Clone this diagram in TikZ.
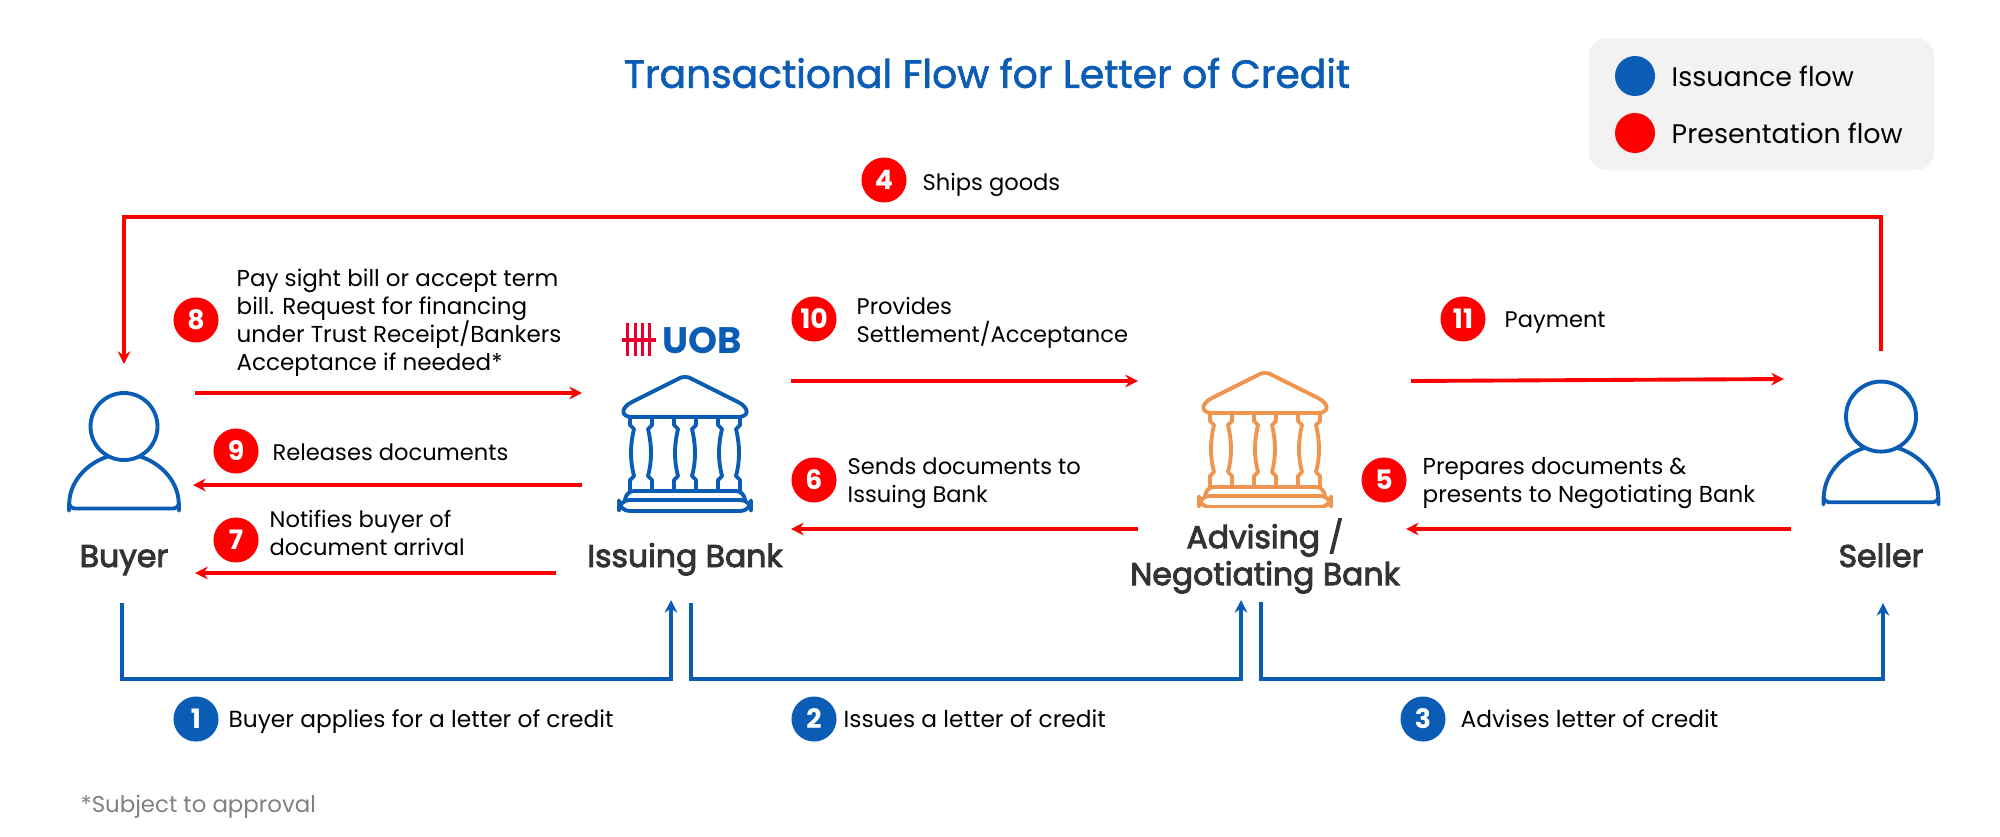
\documentclass[tikz,border=0pt]{standalone}
\usepackage{fontspec}
\setmainfont{Poppins}
\newfontfamily\titlefont[RawFeature={embolden=1.5}]{Poppins}
\newfontfamily\partyfont[RawFeature={embolden=3}]{Poppins}
\usepackage{tikz}
\usetikzlibrary{arrows.meta}
\definecolor{uobblue}{HTML}{0B5CB5}
\definecolor{uobred}{HTML}{FF0000}
\definecolor{uoblogo}{HTML}{E4002B}
\definecolor{uoborange}{HTML}{F0954F}
\definecolor{uobtext}{HTML}{333333}
\tikzset{
% Two badge styles, one for each flow
blue badge/.style={circle,fill=uobblue,text=white,inner sep=0,minimum size=.45cm,font=\fontsize{7.6}{8}\selectfont\bfseries},
red badge/.style={circle,fill=uobred,text=white,inner sep=0,minimum size=.45cm,font=\fontsize{7.6}{8}\selectfont\bfseries},
blue flow/.style={draw=uobblue,line width=1.1pt,-{Stealth[length=3.6pt,width=3.6pt]}},
red flow/.style={draw=uobred,line width=1.1pt,-{Stealth[length=3.6pt,width=3.6pt]}},
step text/.style={anchor=west,align=left,inner sep=0,text=black,font=\fontsize{6.42}{8}\selectfont},
wide text/.style={step text,font=\fontsize{6.62}{8}\selectfont},
party/.style={align=center,inner sep=0,text=uobtext,font=\fontsize{8.95}{10.5}\partyfont},
icon/.style={line width=1.1pt,line join=round,line cap=round},
% Person and bank icons, origin at the top middle
pics/person/.style={code={
  \draw (0,35) circle[radius=33.5];
  \draw[rounded corners=1.5pt] (-16,65) .. controls (-38,72) and (-53,90) .. (-55,114) -- (-55,117) -- (55,117) -- (55,114) .. controls (53,90) and (38,72) .. (16,65);
}},
pics/bank/.style={code={
  \draw (-8,3.5) .. controls (-3,0) and (3,0) .. (8,3.5) -- (53,26) .. controls (65,32) and (64,41) .. (53,41) -- (-53,41) .. controls (-64,41) and (-65,32) .. (-53,26) -- cycle;
  \foreach \c in {-44,0,44}{
    \draw (\c-11,41) -- (\c-11,49) -- (\c-7,53) .. controls (\c-11,70) and (\c-11,85) .. (\c-7,100) -- (\c-11,104) -- (\c-11,115);
    \draw (\c+11,41) -- (\c+11,49) -- (\c+7,53) .. controls (\c+11,70) and (\c+11,85) .. (\c+7,100) -- (\c+11,104) -- (\c+11,115);
  }
  \draw[rounded corners=2pt] (-60,124) -- (-58,115) -- (58,115) -- (60,124);
  \draw[rounded corners=3pt] (-66,124) rectangle (66,135);
}}
}
\begin{document}
\begin{tikzpicture}[x=.01cm,y=-.01cm]
      \useasboundingbox (0,0) rectangle (2000,836);
      % Title and legend
      \node(title) at (987,73)[text=uobblue,font=\fontsize{11.15}{14}\titlefont]{Transactional Flow for Letter of Credit};
      \fill[gray!10,rounded corners=5pt] (1589,38) rectangle (1934,170);
      \node(lgblue) at (1635,76)[circle,fill=uobblue,minimum size=.4cm,inner sep=0]{};
      \node(lgred) at (1635,133)[circle,fill=uobred,minimum size=.4cm,inner sep=0]{};
      \node(lgbluetext) at (1671,76)[step text,font=\fontsize{7.65}{9}\selectfont]{Issuance flow};
      \node(lgredtext) at (1671,133)[step text,font=\fontsize{7.65}{9}\selectfont]{Presentation flow};
      % The parties
      \pic[icon,color=uobblue] at (124,391.5) {person};
      \pic[icon,color=uobblue,scale=1.045] at (1881,380) {person};
      \pic[icon,color=uobblue] at (685,376) {bank};
      \begin{scope}
        \clip (1150,360) rectangle (1400,507);
        \pic[icon,color=uoborange] at (1265,372) {bank};
      \end{scope}
      \node(buyer) at (124,567)[party,anchor=base]{Buyer};
      \node(seller) at (1881,567)[party,anchor=base]{Seller};
      \node(issuing) at (685,567)[party,anchor=base]{Issuing Bank};
      \node(advising) at (1265,556)[party]{Advising /\\Negotiating Bank};
      % UOB logo
      \foreach \x in {627,635,642,649.5}{
        \draw[uoblogo,line width=.85pt] (\x,323) -- (\x,356);
      }
      \draw[uoblogo,line width=.9pt] (622,340) -- (656,340);
      \node(uob) at (702,340)[inner sep=0,text=uobblue,font=\fontsize{10.5}{12}\selectfont\bfseries]{UOB};
      % Issuance flow
      \node(b1) at (196,719)[blue badge]{1};
      \node(t1) at (228,722)[wide text]{Buyer applies for a letter of credit};
      \node(b2) at (814,719)[blue badge]{2};
      \node(t2) at (843,719)[wide text]{Issues a letter of credit};
      \node(b3) at (1423,719)[blue badge]{3};
      \node(t3) at (1460,719)[wide text]{Advises letter of credit};
      \coordinate(s1) at (122,603);
      \coordinate(m1) at (400,679);
      \coordinate(e1) at (671,600);
      \coordinate(s2) at (691,603);
      \coordinate(m2) at (1000,679);
      \coordinate(e2) at (1241,600);
      \coordinate(s3) at (1261,602);
      \coordinate(m3) at (1600,679);
      \coordinate(e3) at (1883,603);
      \draw[blue flow] (s1) |- (m1) -| (e1);
      \draw[blue flow] (s2) |- (m2) -| (e2);
      \draw[blue flow] (s3) |- (m3) -| (e3);
      % Presentation flow
      \node(b4) at (884,180)[red badge]{4};
      \node(t4) at (922,184.5)[step text]{Ships goods};
      \coordinate(s4) at (1881,351);
      \coordinate(m4) at (1000,217);
      \coordinate(e4) at (124,364);
      \draw[red flow] (s4) |- (m4) -| (e4);
      \node(b5) at (1384,480)[red badge]{5};
      \node(t5) at (1422,483.5)[step text,font=\fontsize{6.55}{8}\selectfont]{Prepares documents \&\\presents to Negotiating Bank};
      \coordinate(s5) at (1791,529);
      \coordinate(e5) at (1406,529);
      \draw[red flow] (s5) -- (e5);
      \node(b6) at (814,480)[red badge]{6};
      \node(t6) at (847,483.5)[step text]{Sends documents to\\Issuing Bank};
      \coordinate(s6) at (1138,529);
      \coordinate(e6) at (791,529);
      \draw[red flow] (s6) -- (e6);
      \node(b7) at (236,540)[red badge]{7};
      \node(t7) at (269,533)[step text]{Notifies buyer of\\document arrival};
      \coordinate(s7) at (556,573);
      \coordinate(e7) at (195,573);
      \draw[red flow] (s7) -- (e7);
      \node(b8) at (196,320)[red badge]{8};
      \node(t8) at (236,322.5)[step text,font=\fontsize{6.55}{8}\selectfont]{Pay sight bill or accept term\\bill. Request for financing\\under Trust Receipt/Bankers\\Acceptance if needed*};
      \coordinate(s8) at (195,393);
      \coordinate(e8) at (582,393);
      \draw[red flow] (s8) -- (e8);
      \node(b9) at (236,451)[red badge]{9};
      \node(t9) at (272,452)[step text]{Releases documents};
      \coordinate(s9) at (582,485);
      \coordinate(e9) at (193,485);
      \draw[red flow] (s9) -- (e9);
      \node(b10) at (814,319)[red badge]{10};
      \node(t10) at (856,322.5)[step text]{Provides\\Settlement/Acceptance};
      \coordinate(s10) at (791,381);
      \coordinate(e10) at (1138,381);
      \draw[red flow] (s10) -- (e10);
      \node(b11) at (1463,319)[red badge]{11};
      \node(t11) at (1504,323)[step text]{Payment};
      \coordinate(s11) at (1411,381);
      \coordinate(e11) at (1784,379);
      \draw[red flow] (s11) -- (e11);
      % Footnote
      \node(note) at (80,807)[step text,text=gray,font=\fontsize{6.5}{8}\selectfont]{*Subject to approval};
    \end{tikzpicture}
\end{document}
